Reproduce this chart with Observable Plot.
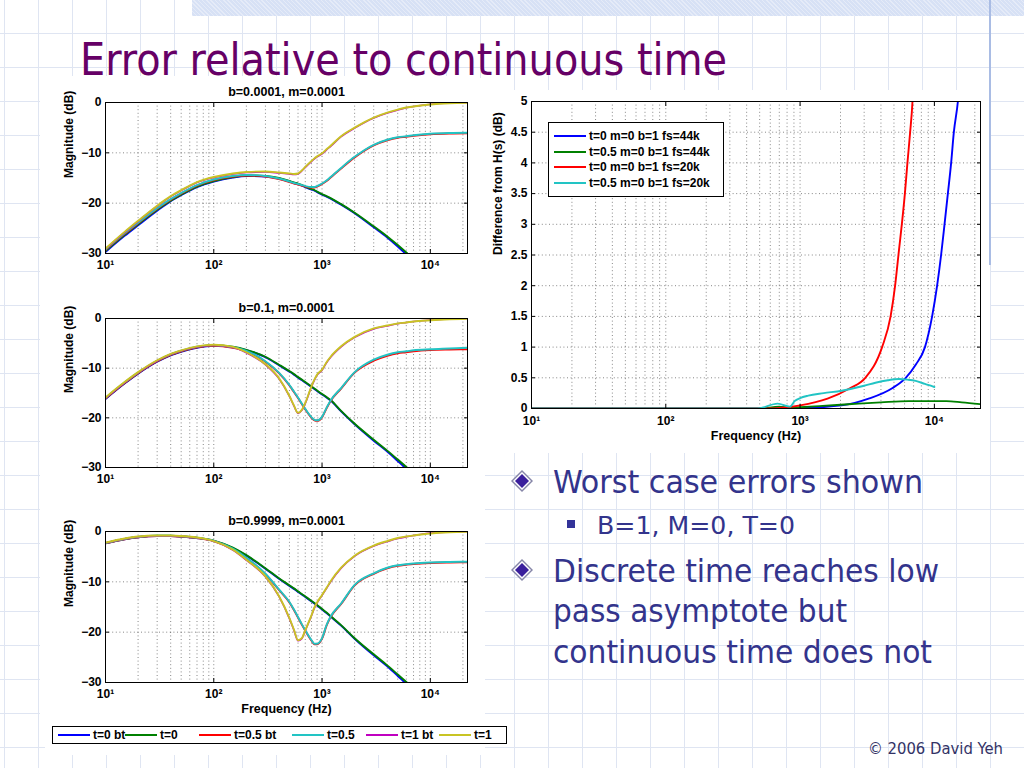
<!DOCTYPE html>
<html><head><meta charset="utf-8">
<script src="https://cdn.jsdelivr.net/npm/d3@7"></script>
<script src="https://cdn.jsdelivr.net/npm/@observablehq/plot@0.6"></script>
<style>
html,body{margin:0;padding:0;width:1024px;height:768px;overflow:hidden;}
body{position:relative;background:#fff;
 background-image:linear-gradient(to right,#dfe5f2 1px,transparent 1px),linear-gradient(to bottom,#dfe5f2 1px,transparent 1px);
 background-size:34px 34px,34px 34px;background-position:4px 0,0 33px;}
.abs{position:absolute;}
.band{left:192px;top:0;width:832px;height:16px;background:#d7e1f5;
 background-image:repeating-linear-gradient(45deg,rgba(255,255,255,.35) 0 1px,transparent 1px 3px);}
.vline{left:989px;top:0;width:2px;height:265px;background:#a9bce4;}
.white{background:#fff;}
.leg{background:#fff;border:1px solid #000;box-sizing:border-box;font:bold 12px 'Liberation Sans',Arial,sans-serif;color:#000;}
.item{position:absolute;white-space:nowrap;line-height:14px;}
.sw{position:absolute;height:2px;}
</style></head>
<body>
<div class="abs band"></div>
<div class="abs white" style="left:45px;top:78px;width:440px;height:677px"></div>
<div class="abs white" style="left:487px;top:92px;width:500px;height:360px"></div>
<div id="pA" class="abs" style="left:40px;top:76px"></div>
<div id="pB" class="abs" style="left:40px;top:292px"></div>
<div id="pC" class="abs" style="left:40px;top:505px"></div>
<div id="pR" class="abs" style="left:485px;top:90px"></div>
<div id="legR" class="abs leg" style="left:548px;top:122px;width:176px;height:75px"></div>
<div id="legB" class="abs leg" style="left:52px;top:726px;width:455px;height:18px"></div>
<div class="abs vline"></div>
<svg class="abs" style="left:0;top:0" width="1024" height="768" id="slide">
  <g font-family="'DejaVu Sans Condensed','DejaVu Sans',sans-serif">
    <text x="80" y="75" font-size="45" fill="#660066" textLength="647" lengthAdjust="spacingAndGlyphs">Error relative to continuous time</text>
    <text x="553" y="493" font-size="32" fill="#33348c" textLength="370" lengthAdjust="spacingAndGlyphs">Worst case errors shown</text>
    <text x="597" y="534" font-size="25" fill="#33348c" textLength="198" lengthAdjust="spacingAndGlyphs">B=1, M=0, T=0</text>
    <text x="553" y="582" font-size="32" fill="#33348c" textLength="386" lengthAdjust="spacingAndGlyphs">Discrete time reaches low</text>
    <text x="553" y="622" font-size="32" fill="#33348c" textLength="294" lengthAdjust="spacingAndGlyphs">pass asymptote but</text>
    <text x="553" y="663" font-size="32" fill="#33348c" textLength="379" lengthAdjust="spacingAndGlyphs">continuous time does not</text>
    <text x="868" y="754" font-size="16" fill="#333366" textLength="135" lengthAdjust="spacingAndGlyphs">© 2006 David Yeh</text>
  </g>
  <g>
    <polygon points="522,470 533,481 522,492 511,481" fill="#8686a8"/>
    <polygon points="522,472 531,481 522,490 513,481" fill="#fff"/>
    <polygon points="522,474 529,481 522,488 515,481" fill="#3a1f9c"/>
    <polygon points="522,559 533,570 522,581 511,570" fill="#8686a8"/>
    <polygon points="522,561 531,570 522,579 513,570" fill="#fff"/>
    <polygon points="522,563 529,570 522,577 515,570" fill="#3a1f9c"/>
    <rect x="567" y="520" width="8" height="8" fill="#333399"/>
  </g>
</svg>
<script>
// ---------- data ----------
const FREQ = [10,15,20,30,40,50,70,100,150,200,300,400,500,550,600,650,700,800,850,900,1000,1100,1200,1500,2000,3000,4000,5000,6000,7000,10000,15000,22050];
const SERIES_NAMES = ["t=0 bt","t=0","t=0.5 bt","t=0.5","t=1 bt","t=1"];
const SERIES_COLORS = ["#0000ff","#008000","#ff0000","#22c4c4","#c000c0","#c8c424"];

// panel 1: b=0.0001, m=0.0001
const p1_t0bt  = [-29.7,-26.5,-24.4,-21.5,-19.6,-18.4,-16.8,-15.7,-14.9,-14.6,-14.7,-15.1,-15.7,-16.0,-16.2,-16.5,-16.8,-17.3,-17.5,-17.8,-18.3,-18.7,-19.1,-20.3,-22.0,-24.8,-26.8,-28.6,-30.2,-31.7,-35.2,-39,-42];
const p1_t0    = [-29.5,-26.3,-24.2,-21.3,-19.5,-18.3,-16.7,-15.6,-14.8,-14.5,-14.6,-15.0,-15.6,-15.9,-16.1,-16.4,-16.7,-17.2,-17.4,-17.7,-18.2,-18.6,-19.0,-20.2,-21.9,-24.6,-26.6,-28.3,-29.8,-31.2,-34.5,-38,-41];
const p1_t05bt = [-29.3,-26.1,-24.0,-21.1,-19.3,-18.1,-16.5,-15.4,-14.7,-14.5,-14.7,-15.2,-15.8,-16.1,-16.3,-16.5,-16.7,-16.9,-16.9,-16.7,-16.2,-15.6,-14.9,-13.1,-10.9,-8.5,-7.5,-7.0,-6.8,-6.6,-6.3,-6.15,-6.1];
const p1_t05   = [-29.2,-26.0,-23.9,-21.0,-19.2,-18.0,-16.4,-15.3,-14.6,-14.4,-14.6,-15.1,-15.7,-16.0,-16.2,-16.4,-16.6,-16.8,-16.8,-16.6,-16.1,-15.5,-14.8,-13.0,-10.8,-8.4,-7.4,-6.9,-6.7,-6.5,-6.2,-6.05,-6.0];
const p1_t1bt  = [-29.1,-25.8,-23.6,-20.6,-18.7,-17.5,-15.9,-14.9,-14.2,-13.9,-13.8,-14.0,-14.2,-14.3,-14.2,-13.6,-12.9,-11.7,-11.2,-10.8,-10.2,-9.4,-8.7,-6.8,-5.1,-3.1,-2.1,-1.5,-1.05,-0.8,-0.35,-0.1,0];
const p1_t1    = [-29.0,-25.7,-23.5,-20.5,-18.6,-17.4,-15.8,-14.8,-14.1,-13.8,-13.7,-13.9,-14.1,-14.2,-14.1,-13.5,-12.8,-11.6,-11.1,-10.7,-10.1,-9.3,-8.6,-6.7,-5.0,-3.0,-2.0,-1.4,-1.0,-0.8,-0.4,-0.15,-0.05];

// panel 2: b=0.1, m=0.0001
const p2_t0bt  = [-16.2,-13.1,-11.1,-8.7,-7.4,-6.7,-5.9,-5.5,-5.8,-6.4,-7.8,-9.4,-10.7,-11.3,-11.9,-12.4,-12.9,-13.8,-14.2,-14.6,-15.3,-15.9,-16.5,-18.7,-21.3,-24.6,-26.8,-28.7,-30.3,-31.8,-35.3,-39,-42];
const p2_t0    = [-16.1,-13.0,-11.0,-8.6,-7.3,-6.6,-5.8,-5.4,-5.7,-6.3,-7.7,-9.3,-10.6,-11.2,-11.8,-12.3,-12.8,-13.7,-14.1,-14.5,-15.2,-15.8,-16.4,-18.6,-21.2,-24.4,-26.6,-28.4,-29.9,-31.3,-34.6,-38,-41];
const p2_t05bt = [-16.1,-13.0,-11.0,-8.6,-7.3,-6.6,-5.8,-5.5,-5.9,-6.6,-8.7,-11.0,-13.5,-14.8,-16.0,-17.2,-18.3,-20.0,-20.5,-20.6,-19.9,-18.1,-16.6,-14.1,-10.9,-8.5,-7.5,-7.0,-6.8,-6.6,-6.35,-6.25,-6.2];
const p2_t05   = [-16.0,-12.9,-10.9,-8.5,-7.2,-6.5,-5.7,-5.4,-5.8,-6.5,-8.6,-10.9,-13.4,-14.7,-15.9,-17.1,-18.2,-19.9,-20.4,-20.5,-19.8,-18.0,-16.5,-14.0,-10.8,-8.3,-7.3,-6.8,-6.6,-6.4,-6.2,-6.05,-5.9];
const p2_t1bt  = [-16.0,-12.9,-10.9,-8.5,-7.2,-6.5,-5.7,-5.4,-5.8,-6.9,-9.3,-12.1,-15.7,-17.6,-19.1,-18.5,-17.1,-13.7,-12.4,-11.4,-10.4,-8.9,-7.8,-5.7,-3.8,-2.1,-1.5,-1.05,-0.8,-0.6,-0.3,-0.1,0];
const p2_t1    = [-15.9,-12.8,-10.8,-8.4,-7.1,-6.4,-5.6,-5.3,-5.7,-6.8,-9.2,-12.0,-15.6,-17.5,-19.0,-18.4,-17.0,-13.6,-12.3,-11.3,-10.3,-8.8,-7.7,-5.6,-3.7,-2.0,-1.4,-1.0,-0.8,-0.6,-0.35,-0.15,-0.05];

// panel 3: b=0.9999, m=0.0001
const p3_t0bt  = [-2.35,-1.55,-1.15,-0.9,-0.9,-1.0,-1.3,-1.85,-3.3,-4.8,-7.4,-9.4,-10.8,-11.4,-12.0,-12.5,-13.0,-13.9,-14.3,-14.7,-15.5,-16.2,-16.9,-18.7,-21.3,-24.6,-26.8,-28.7,-30.3,-31.8,-35.3,-39,-42];
const p3_t0    = [-2.3,-1.5,-1.1,-0.85,-0.85,-0.95,-1.25,-1.8,-3.2,-4.7,-7.3,-9.3,-10.7,-11.3,-11.9,-12.4,-12.9,-13.8,-14.2,-14.6,-15.4,-16.1,-16.8,-18.6,-21.2,-24.4,-26.6,-28.4,-29.9,-31.3,-34.6,-38,-41];
const p3_t05bt = [-2.35,-1.55,-1.15,-0.9,-0.9,-1.0,-1.3,-1.9,-3.5,-5.3,-8.5,-11.6,-14.1,-15.6,-17.1,-18.5,-19.7,-21.7,-22.4,-22.4,-21.3,-18.7,-17.0,-14.4,-10.7,-8.4,-7.3,-6.8,-6.6,-6.45,-6.25,-6.15,-6.1];
const p3_t05   = [-2.3,-1.5,-1.1,-0.85,-0.85,-0.95,-1.25,-1.85,-3.4,-5.2,-8.4,-11.5,-14.0,-15.5,-17.0,-18.4,-19.6,-21.6,-22.3,-22.3,-21.2,-18.6,-16.9,-14.3,-10.6,-8.3,-7.2,-6.7,-6.5,-6.35,-6.15,-6.05,-6.0];
const p3_t1bt  = [-2.25,-1.45,-1.05,-0.85,-0.85,-0.95,-1.25,-1.95,-3.7,-5.7,-9.0,-12.9,-17.3,-19.6,-21.7,-21.3,-19.7,-16.7,-15.2,-14.2,-12.7,-11.3,-10.0,-7.3,-4.9,-2.9,-2.0,-1.4,-1.05,-0.8,-0.3,-0.1,0];
const p3_t1    = [-2.2,-1.4,-1.0,-0.8,-0.8,-0.9,-1.2,-1.9,-3.6,-5.6,-8.9,-12.8,-17.2,-19.5,-21.6,-21.2,-19.6,-16.6,-15.1,-14.1,-12.6,-11.2,-9.9,-7.2,-4.8,-2.8,-1.9,-1.3,-1.0,-0.8,-0.4,-0.15,-0.05];

const PANEL_TITLES = ["b=0.0001, m=0.0001","b=0.1, m=0.0001","b=0.9999, m=0.0001"];

// right panel: difference from H(s)
const R_NAMES  = ["t=0 m=0 b=1 fs=44k","t=0.5 m=0 b=1 fs=44k","t=0 m=0 b=1 fs=20k","t=0.5 m=0 b=1 fs=20k"];
const R_COLORS = ["#0000ff","#008000","#ff0000","#22c4c4"];
const r_t0_44_f  = [10,800,1000,2030,3240,4850,6120,7300,8510,9620,10480,11220,11900,12600,13330,13960,14960,15500];
const r_t0_44_v  = [0,0,0.005,0.05,0.16,0.33,0.5,0.72,1.0,1.5,2.0,2.5,3.0,3.5,4.0,4.5,5.0,5.4];
const r_t05_44_f = [10,500,700,850,1000,2000,2730,4000,6430,9000,12300,16000,22050];
const r_t05_44_v = [0,0,0.03,0.01,0.02,0.06,0.08,0.1,0.12,0.12,0.12,0.1,0.07];
const r_t0_20_f  = [10,600,800,1000,1600,2350,3060,4080,4720,5100,5400,6030,6300,6600,6870,7000];
const r_t0_20_v  = [0,0,0.02,0.05,0.16,0.33,0.5,1.0,1.5,2.0,2.5,3.5,4.0,4.5,5.0,5.4];
const r_t05_20_f = [10,480,680,840,910,1000,1150,1500,2040,3000,3640,4500,5450,6300,7260,8500,9710,10000];
const r_t05_20_v = [0,0,0.08,0.03,0.12,0.17,0.21,0.25,0.29,0.37,0.42,0.46,0.48,0.47,0.45,0.40,0.36,0.35];

// axes
const X_DOMAIN = [10,22050];
const X_TICKS = [10,100,1000,10000];
const X_LABELS = ["10¹","10²","10³","10⁴"];
const X_GRID = [20,30,40,50,60,70,80,90,100,200,300,400,500,600,700,800,900,1000,2000,3000,4000,5000,6000,7000,8000,9000,10000,20000];
const MAG_TICKS = [0,-10,-20,-30];
const MAG_GRID = [-10,-20];
const DIFF_TICKS = [0,0.5,1,1.5,2,2.5,3,3.5,4,4.5,5];
const DIFF_LABELS = ["0","0.5","1","1.5","2","2.5","3","3.5","4","4.5","5"];
const DIFF_GRID = [0.5,1,1.5,2,2.5,3,3.5,4,4.5];

// ---------- drawing ----------
const FONT = "'Liberation Sans', Arial, Helvetica, sans-serif";
const gridStyle = {stroke:"#000", strokeOpacity:0.6, strokeWidth:0.8, strokeDasharray:"1,2.6"};
const rows = (fs, vs) => fs.map((f,i)=>({f, v: vs[i]}));
const xfmt = d => X_LABELS[X_TICKS.indexOf(d)];
const LINE_W = [1.9,1.9,1.9,1.9,1.6,1.9];

function commonAxes(yTicks) {
  return [
    Plot.frame({stroke:"#000", strokeWidth:1}),
    Plot.axisX({ticks:X_TICKS, anchor:"bottom", tickSize:-4, tickFormat:()=>"", label:null}),
    Plot.axisX({ticks:X_TICKS, anchor:"top", tickSize:-4, tickFormat:()=>"", label:null}),
    Plot.axisY({ticks:yTicks, anchor:"left", tickSize:-4, tickFormat:()=>"", label:null}),
    Plot.axisY({ticks:yTicks, anchor:"right", tickSize:-4, tickFormat:()=>"", label:null}),
  ];
}

function magPanel(el, title, series, height, marginBottom, withXLabel) {
  const marks = [
    Plot.ruleX(X_GRID, {x:d=>d, ...gridStyle}),
    Plot.ruleY(MAG_GRID, {y:d=>d, ...gridStyle}),
    ...series.map((vals,k)=>Plot.line(rows(FREQ, vals), {x:"f", y:"v", stroke:SERIES_COLORS[k], strokeWidth:LINE_W[k], curve:"monotone-x", clip:true})),
    ...commonAxes(MAG_TICKS),
    Plot.axisX({ticks:X_TICKS, anchor:"bottom", tickSize:0, tickPadding:7, tickFormat:xfmt, label:null, fontWeight:"bold", fontSize:12}),
    Plot.axisY({ticks:MAG_TICKS, anchor:"left", tickSize:0, tickPadding:4, label:null, fontWeight:"bold", fontSize:12}),
    Plot.text([title], {text:d=>d, frameAnchor:"top", dy:-15, fontWeight:"bold", fontSize:12.5}),
    Plot.text(["Magnitude (dB)"], {text:d=>d, frameAnchor:"left", rotate:-90, dx:-36, fontWeight:"bold", fontSize:12}),
  ];
  if (withXLabel) marks.push(Plot.text(["Frequency (Hz)"], {text:d=>d, frameAnchor:"bottom", dy:30, fontWeight:"bold", fontSize:12.5}));
  const p = Plot.plot({
    width:437, height, marginLeft:65, marginRight:10, marginTop:26, marginBottom,
    style:{background:"white", fontFamily:FONT, fontSize:"12px", color:"#000", overflow:"visible"},
    x:{type:"log", domain:X_DOMAIN, axis:null},
    y:{domain:[-30,0], axis:null},
    marks
  });
  document.getElementById(el).appendChild(p);
}

magPanel("pA", PANEL_TITLES[0], [p1_t0bt,p1_t0,p1_t05bt,p1_t05,p1_t1bt,p1_t1], 201, 24, false);
magPanel("pB", PANEL_TITLES[1], [p2_t0bt,p2_t0,p2_t05bt,p2_t05,p2_t1bt,p2_t1], 199, 24, false);
magPanel("pC", PANEL_TITLES[2], [p3_t0bt,p3_t0,p3_t05bt,p3_t05,p3_t1bt,p3_t1], 217, 40, true);

const rSeries = [[r_t0_44_f,r_t0_44_v],[r_t05_44_f,r_t05_44_v],[r_t0_20_f,r_t0_20_v],[r_t05_20_f,r_t05_20_v]];
const pr = Plot.plot({
  width:505, height:363, marginLeft:46, marginRight:10, marginTop:11, marginBottom:45,
  style:{background:"white", fontFamily:FONT, fontSize:"12px", color:"#000", overflow:"visible"},
  x:{type:"log", domain:X_DOMAIN, axis:null},
  y:{domain:[0,5], axis:null},
  marks:[
    Plot.ruleX(X_GRID, {x:d=>d, ...gridStyle}),
    Plot.ruleY(DIFF_GRID, {y:d=>d, ...gridStyle}),
    ...rSeries.map(([fs,vs],k)=>Plot.line(rows(fs,vs), {x:"f", y:"v", stroke:R_COLORS[k], strokeWidth:1.9, curve:"monotone-x", clip:true})),
    ...commonAxes(DIFF_TICKS),
    Plot.axisX({ticks:X_TICKS, anchor:"bottom", tickSize:0, tickPadding:8, tickFormat:xfmt, label:null, fontWeight:"bold", fontSize:12}),
    Plot.axisY({ticks:DIFF_TICKS, anchor:"left", tickSize:0, tickPadding:4, tickFormat:d=>DIFF_LABELS[DIFF_TICKS.indexOf(d)], label:null, fontWeight:"bold", fontSize:12}),
    Plot.text(["Difference from H(s) (dB)"], {text:d=>d, frameAnchor:"left", rotate:-90, dx:-33, fontWeight:"bold", fontSize:12}),
    Plot.text(["Frequency (Hz)"], {text:d=>d, frameAnchor:"bottom", dy:31, fontWeight:"bold", fontSize:12.5}),
  ]
});
document.getElementById("pR").appendChild(pr);

// legends
const legR = document.getElementById("legR");
R_NAMES.forEach((name,k)=>{
  const sw = document.createElement("div"); sw.className="sw";
  sw.style.left="5px"; sw.style.width="32px"; sw.style.top=(12+k*15.5)+"px"; sw.style.background=R_COLORS[k];
  const t = document.createElement("div"); t.className="item"; t.textContent=name;
  t.style.left="40px"; t.style.top=(6+k*15.5)+"px";
  legR.appendChild(sw); legR.appendChild(t);
});
const legB = document.getElementById("legB");
const legBTextX = [40,107,181,274,348,421];
SERIES_NAMES.forEach((name,k)=>{
  const sw = document.createElement("div"); sw.className="sw";
  sw.style.left=(legBTextX[k]-35)+"px"; sw.style.width="32px"; sw.style.top="7px"; sw.style.background=SERIES_COLORS[k];
  const t = document.createElement("div"); t.className="item"; t.textContent=name;
  t.style.left=legBTextX[k]+"px"; t.style.top="1px";
  legB.appendChild(sw); legB.appendChild(t);
});
</script>
</body></html>
